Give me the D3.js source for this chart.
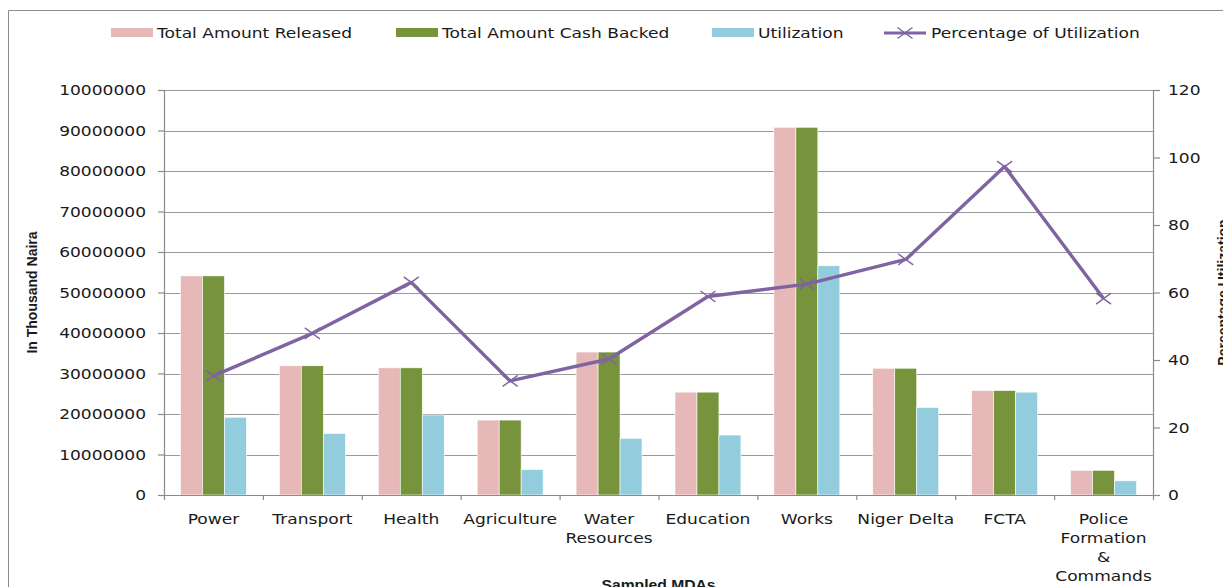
<!DOCTYPE html>
<html>
<head>
<meta charset="utf-8">
<script src="https://cdn.jsdelivr.net/npm/d3@7"></script>
<style>
html,body{margin:0;padding:0;background:#fff;}
svg{display:block;}
</style>
</head>
<body>
<svg id="chart" width="1223" height="587"></svg>
<script>
// ---- data ----
const categories = ["Power","Transport","Health","Agriculture","Water Resources","Education","Works","Niger Delta","FCTA","Police Formation & Commands"];
const categoryLines = [["Power"],["Transport"],["Health"],["Agriculture"],["Water","Resources"],["Education"],["Works"],["Niger Delta"],["FCTA"],["Police","Formation","&","Commands"]];
const seriesNames = ["Total Amount Released","Total Amount Cash Backed","Utilization"];
const lineName = "Percentage of Utilization";
const released   = [54100000, 31900000, 31400000, 18500000, 35300000, 25400000, 90800000, 31300000, 25800000, 6100000];
const cashBacked = [54100000, 31900000, 31400000, 18500000, 35300000, 25400000, 90800000, 31300000, 25800000, 6100000];
const utilization= [19200000, 15200000, 19750000, 6300000, 14000000, 14800000, 56600000, 21600000, 25400000, 3500000];
const percentage = [35.3, 47.9, 63.0, 33.8, 40.3, 58.8, 62.5, 69.8, 97.3, 58.2];
const leftTickValues = [0,10000000,20000000,30000000,40000000,50000000,60000000,70000000,80000000,90000000,100000000];
const leftTickLabels = ["0","10000000","20000000","30000000","40000000","50000000","60000000","70000000","80000000","90000000","10000000"];
const rightTickValues = [0,20,40,60,80,100,120];
const leftTitle = "In Thousand Naira";
const rightTitle = "Percentage Utilization";
const xTitle = "Sampled MDAs";

// ---- style ----
const colors = ["#E6B9B8","#77933C","#93CDDD"];
const lineColor = "#8064A2";
const gridColor = "#9a9a9a";
const axisColor = "#8a8a8a";
const FONT = "'DejaVu Sans', sans-serif";
const FS = 13.5, SX = 1.265;

const svg = d3.select("#chart");
const L = 164, R = 1153, T = 90, B = 495;

// outer chart border (cut by the window)
svg.append("path").attr("d","M8.5,600 V10.5 H1240").attr("fill","none").attr("stroke","#8c8c8c").attr("stroke-width",1);

const x = d3.scaleBand().domain(categories).range([L,R]).paddingInner(0).paddingOuter(0);
const xs = d3.scaleBand().domain(seriesNames).range([0,x.bandwidth()]).paddingInner(0).paddingOuter(0.75);
const yL = d3.scaleLinear().domain([0,100000000]).range([B,T]);
const yR = d3.scaleLinear().domain([0,120]).range([B,T]);

function stext(g, px, py, str, anchor, opts={}) {
  const sx = opts.sx || SX;
  return g.append("text")
    .attr("transform", `translate(${px},${py}) scale(${sx},1)`)
    .attr("text-anchor", anchor)
    .attr("font-family", opts.family || FONT)
    .attr("font-size", opts.size || FS)
    .attr("font-weight", opts.weight || "normal")
    .attr("fill", "#1a1a1a")
    .text(str);
}

// gridlines
svg.append("g").selectAll("line").data(leftTickValues.slice(1)).join("line")
  .attr("x1",L).attr("x2",R).attr("y1",d=>Math.round(yL(d))+0.5).attr("y2",d=>Math.round(yL(d))+0.5)
  .attr("stroke",gridColor).attr("stroke-width",1.2);

// bars
const allSeries = [released, cashBacked, utilization];
const barsG = svg.append("g");
allSeries.forEach((vals, si) => {
  barsG.selectAll(null).data(vals).join("rect")
    .attr("x",(d,i)=>x(categories[i]) + xs(seriesNames[si]))
    .attr("y",d=>yL(d))
    .attr("width",xs.bandwidth())
    .attr("height",d=>B - yL(d))
    .attr("fill",colors[si])
    .attr("stroke","#ffffff").attr("stroke-width",0.6);
});

// axes
const axL = svg.append("g").attr("transform",`translate(${L},0)`)
  .call(d3.axisLeft(yL).tickValues(leftTickValues).tickSize(6).tickFormat(""));
const axR = svg.append("g").attr("transform",`translate(${R},0)`)
  .call(d3.axisRight(yR).tickValues(rightTickValues).tickSize(7).tickFormat(""));
const boundaries = categories.map(c=>x(c)).concat([R]);
const axB = svg.append("g").attr("transform",`translate(0,${B})`)
  .call(d3.axisBottom(d3.scaleLinear().domain([L,R]).range([L,R])).tickValues(boundaries).tickSize(5).tickSizeOuter(0).tickFormat(""));
[axL,axR,axB].forEach(a=>{a.selectAll("path,line").attr("stroke",axisColor).attr("stroke-width",1.2);});

// tick labels
leftTickValues.forEach((v,i)=>stext(svg, 146, yL(v)+5, leftTickLabels[i], "end"));
rightTickValues.forEach(v=>stext(svg, 1168, yR(v)+5, String(v), "start"));
categoryLines.forEach((lines,i)=>{
  const cx = x(categories[i]) + x.bandwidth()/2;
  lines.forEach((ln,j)=>stext(svg, cx, 524 + j*19, ln, "middle"));
});

// percentage line
const lineGen = d3.line().x((d,i)=>x(categories[i])+x.bandwidth()/2).y(d=>yR(d));
svg.append("path").datum(percentage).attr("d",lineGen)
  .attr("fill","none").attr("stroke",lineColor).attr("stroke-width",3.4).attr("stroke-linejoin","round");
function xMark(g, cx, cy) {
  const w = 7.5, h = 5.5;
  g.append("path").attr("d",`M${cx-w},${cy-h}L${cx+w},${cy+h}M${cx-w},${cy+h}L${cx+w},${cy-h}`)
    .attr("stroke",lineColor).attr("stroke-width",1.4).attr("fill","none");
}
percentage.forEach((p,i)=>xMark(svg, x(categories[i])+x.bandwidth()/2, yR(p)));

// axis titles
svg.append("text").attr("transform",`translate(37,${(T+B)/2}) rotate(-90)`)
  .attr("text-anchor","middle").attr("font-family","'Liberation Sans Narrow', 'Liberation Sans', sans-serif")
  .attr("font-weight","bold").attr("font-size",14).attr("fill","#1a1a1a").text(leftTitle);
svg.append("text").attr("transform",`translate(1228,${(T+B)/2}) rotate(-90)`)
  .attr("text-anchor","middle").attr("font-family","'Liberation Sans Narrow', 'Liberation Sans', sans-serif")
  .attr("font-weight","bold").attr("font-size",14).attr("fill","#1a1a1a").text(rightTitle);
stext(svg, (L+R)/2, 590, xTitle, "middle", {weight:"bold", size:14, sx:1.12, family:"'Liberation Sans', sans-serif"});

// legend
const legendItems = [
  {name: seriesNames[0], type:"rect", color: colors[0], sx:111, tx:157},
  {name: seriesNames[1], type:"rect", color: colors[1], sx:396, tx:442},
  {name: seriesNames[2], type:"rect", color: colors[2], sx:712, tx:758},
  {name: lineName, type:"line", color: lineColor, sx:884, tx:931}
];
legendItems.forEach(it=>{
  if (it.type==="rect") {
    svg.append("rect").attr("x",it.sx).attr("y",28).attr("width",42).attr("height",9).attr("fill",it.color);
  } else {
    svg.append("line").attr("x1",it.sx).attr("x2",it.sx+42).attr("y1",33).attr("y2",33)
      .attr("stroke",it.color).attr("stroke-width",3);
    xMark(svg, it.sx+21, 33);
  }
  stext(svg, it.tx, 38, it.name, "start");
});
</script>
</body>
</html>
